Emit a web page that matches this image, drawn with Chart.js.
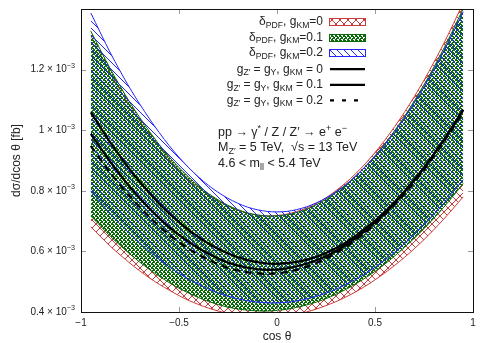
<!DOCTYPE html>
<html><head><meta charset="utf-8">
<script src="https://cdn.jsdelivr.net/npm/chart.js@4"></script>
<style>html,body{margin:0;padding:0;background:#fff}#wrap{width:491px;height:343px;position:relative}</style>
</head><body><div id="wrap"><canvas id="c"></canvas></div>
<script>
// cos(theta) sample points
const cosTheta = [-0.95,-0.85,-0.75,-0.65,-0.55,-0.45,-0.35,-0.25,-0.15,-0.05,0.05,0.15,0.25,0.35,0.45,0.55,0.65,0.75,0.85,0.95];
// dsigma/dcos(theta) in units of 10^-3 fb
// delta_PDF band, gKM = 0 (red)
const redUpper   = [1.312,1.188,1.079,0.984,0.904,0.838,0.786,0.749,0.726,0.717,0.723,0.743,0.777,0.826,0.889,0.967,1.059,1.165,1.285,1.420];
const redLower   = [0.681,0.617,0.561,0.512,0.472,0.438,0.413,0.395,0.385,0.382,0.388,0.400,0.421,0.449,0.485,0.529,0.580,0.639,0.706,0.780];
// delta_PDF band, gKM = 0.1 (green)
const greenUpper = [1.327,1.202,1.091,0.995,0.912,0.845,0.791,0.752,0.727,0.717,0.721,0.739,0.772,0.819,0.880,0.955,1.045,1.150,1.268,1.401];
const greenLower = [0.717,0.650,0.591,0.540,0.497,0.462,0.435,0.416,0.406,0.403,0.409,0.423,0.444,0.474,0.512,0.558,0.613,0.675,0.745,0.824];
// delta_PDF band, gKM = 0.2 (blue)
const blueUpper  = [1.387,1.255,1.138,1.037,0.949,0.876,0.818,0.775,0.746,0.732,0.732,0.747,0.776,0.820,0.879,0.952,1.040,1.143,1.260,1.391];
const blueLower  = [0.799,0.724,0.657,0.599,0.549,0.508,0.476,0.452,0.437,0.430,0.432,0.443,0.462,0.490,0.526,0.571,0.625,0.687,0.758,0.837];
// central curves gZ' = gY
const curveKM0   = [1.059,0.959,0.870,0.792,0.725,0.670,0.626,0.593,0.571,0.560,0.561,0.572,0.595,0.629,0.675,0.731,0.798,0.877,0.967,1.068];
const curveKM01  = [0.988,0.895,0.812,0.741,0.680,0.631,0.592,0.563,0.546,0.539,0.544,0.559,0.584,0.621,0.668,0.726,0.796,0.875,0.966,1.067];
const curveKM02  = [0.948,0.859,0.781,0.713,0.655,0.608,0.572,0.546,0.531,0.526,0.532,0.549,0.576,0.614,0.662,0.720,0.789,0.869,0.960,1.061];
const xTicks = [-1,-0.5,0,0.5,1];
const yTicks = [0.4,0.6,0.8,1.0,1.2,1.4];
const yTickLabels = ['0.4','0.6','0.8','1','1.2',''];

const RED='#cc3a3a', GREEN='#0a6a0a', BLUE='#2424ff';
const FONT='"Liberation Sans", Arial, Helvetica, sans-serif';

function pix(size, color, cells){
  const c=document.createElement('canvas'); c.width=c.height=size;
  const g=c.getContext('2d'); g.fillStyle=color;
  cells(size).forEach(([x,y])=>g.fillRect(x,y,1,1));
  return g.createPattern(c,'repeat');
}
const redPat = pix(8, RED, s=>{const a=[];for(let i=0;i<s;i++){a.push([i,i]);a.push([i,s-1-i]);}return a;});
const greenPat = pix(4, GREEN, s=>{const a=[[1,0],[0,2]];for(let i=0;i<s;i++){a.push([i,i]);a.push([i,s-1-i]);}return a;});
const bluePat = pix(7, BLUE, s=>{const a=[];for(let i=0;i<s;i++){a.push([i,i]);}return a;});

const pts = arr => cosTheta.map((c,i)=>({x:c,y:arr[i]}));
const base = {pointRadius:0, tension:0.3, borderWidth:1};

const datasets = [
  {...base, data:pts(curveKM0),  borderColor:'#000', borderWidth:2.2, fill:false},
  {...base, data:pts(curveKM01), borderColor:'#000', borderWidth:2.2, fill:false},
  {...base, data:pts(curveKM02), borderColor:'#000', borderWidth:2.2, borderDash:[7,5], fill:false},
  {...base, data:pts(blueUpper),  borderColor:BLUE, backgroundColor:bluePat, fill:'+1'},
  {...base, data:pts(blueLower),  borderColor:BLUE, fill:false},
  {...base, data:pts(greenUpper), borderColor:GREEN, backgroundColor:greenPat, fill:'+1'},
  {...base, data:pts(greenLower), borderColor:GREEN, fill:false},
  {...base, data:pts(redUpper),   borderColor:RED, backgroundColor:redPat, fill:'+1'},
  {...base, data:pts(redLower),   borderColor:RED, fill:false}
];

function rich(ctx, parts, x, y, size, align){
  const sub = size*0.72;
  let w=0;
  parts.forEach(p=>{ctx.font=(p[1]?sub:size)+'px '+FONT; w+=ctx.measureText(p[0]).width;});
  let cx = align==='right'? x-w : x;
  ctx.textBaseline='middle'; ctx.textAlign='left';
  parts.forEach(p=>{
    ctx.font=(p[1]?sub:size)+'px '+FONT;
    const dy = p[1]==='sub'? size*0.3 : p[1]==='sup'? -size*0.35 : 0;
    ctx.fillText(p[0], cx, y+dy);
    cx += ctx.measureText(p[0]).width;
  });
}

const decor = {
  id:'decor',
  afterDraw(chart){
    const ctx=chart.ctx, a=chart.chartArea, xs=chart.scales.x, ys=chart.scales.y;
    ctx.save();
    // ticks on four sides
    ctx.strokeStyle='#999'; ctx.lineWidth=1;
    ctx.beginPath();
    yTicks.forEach(v=>{const y=Math.round(ys.getPixelForValue(v))+0.5;
      ctx.moveTo(a.left,y);ctx.lineTo(a.left+5,y);ctx.moveTo(a.right,y);ctx.lineTo(a.right-5,y);});
    xTicks.forEach(v=>{const x=Math.round(xs.getPixelForValue(v))+0.5;
      ctx.moveTo(x,a.bottom);ctx.lineTo(x,a.bottom-5);ctx.moveTo(x,a.top);ctx.lineTo(x,a.top+5);});
    ctx.stroke();
    ctx.strokeStyle='#111';
    ctx.strokeRect(Math.round(a.left)+0.5, Math.round(a.top)+0.5, Math.round(a.right-a.left), Math.round(a.bottom-a.top));
    // y tick labels with superscript exponent
    ctx.fillStyle='#222';
    yTicks.forEach((v,i)=>{ if(!yTickLabels[i]) return;
      rich(ctx,[[yTickLabels[i]+' × 10'],['−3','sup']], a.left-6, ys.getPixelForValue(v), 10, 'right');});
    // axis titles
    ctx.fillStyle='#222'; ctx.font='12px '+FONT; ctx.textAlign='center'; ctx.textBaseline='middle';
    ctx.fillText('cos θ', (a.left+a.right)/2, 337);
    ctx.save(); ctx.translate(17,(a.top+a.bottom)/2); ctx.rotate(-Math.PI/2);
    ctx.fillText('dσ/dcos θ [fb]',0,0); ctx.restore();
    // legend
    const rows=[21.7,37.2,52.9,69.2,84.9,100.3];
    const xr=323, sx0=329, sx1=365;
    const labels=[
      [['δ'],['PDF','sub'],[', g'],['KM','sub'],['=0']],
      [['δ'],['PDF','sub'],[', g'],['KM','sub'],['=0.1']],
      [['δ'],['PDF','sub'],[', g'],['KM','sub'],['=0.2']],
      [['g'],['Z′','sub'],[' = g'],['Y','sub'],[', g'],['KM','sub'],[' = 0']],
      [['g'],['Z′','sub'],[' = g'],['Y','sub'],[', g'],['KM','sub'],[' = 0.1']],
      [['g'],['Z′','sub'],[' = g'],['Y','sub'],[', g'],['KM','sub'],[' = 0.2']]
    ];
    ctx.fillStyle='#222';
    labels.forEach((l,i)=>rich(ctx,l,xr,rows[i],12,'right'));
    [[redPat,RED],[greenPat,GREEN],[bluePat,BLUE]].forEach(([p,c],i)=>{
      const y=Math.round(rows[i]-3.5);
      ctx.fillStyle=p; ctx.fillRect(sx0,y,sx1-sx0,7);
      ctx.strokeStyle=c; ctx.lineWidth=1; ctx.strokeRect(sx0+0.5,y+0.5,sx1-sx0,7);
    });
    ctx.strokeStyle='#000'; ctx.lineWidth=2.2;
    [3,4,5].forEach(i=>{
      ctx.setLineDash(i===5?[4,8]:[]);
      ctx.beginPath(); ctx.moveTo(sx0+1,rows[i]); ctx.lineTo(sx1,rows[i]); ctx.stroke();
    });
    ctx.setLineDash([]);
    // physics text
    ctx.fillStyle='#222';
    rich(ctx,[['pp → γ'],['*','sup'],[' / Z / Z′ → e'],['+','sup'],[' e'],['−','sup']],218,133,12.5,'left');
    rich(ctx,[['M'],['Z′','sub'],[' = 5 TeV,  √s = 13 TeV']],218,148,12.5,'left');
    rich(ctx,[['4.6 < m'],['ll','sub'],[' < 5.4 TeV']],218,163.5,12.5,'left');
    ctx.restore();
  }
};

new Chart(document.getElementById('c'), {
  type:'line',
  data:{datasets},
  options:{
    responsive:true, maintainAspectRatio:false, animation:false,
    layout:{padding:{top:9,right:18,left:0,bottom:0}},
    plugins:{legend:{display:false}, tooltip:{enabled:false}, filler:{propagate:false}},
    scales:{
      x:{type:'linear', min:-1, max:1,
        grid:{display:false, drawTicks:false}, border:{display:false},
        afterFit:s=>{s.height=31;},
        afterBuildTicks:s=>{s.ticks=xTicks.map(v=>({value:v}));},
        ticks:{padding:5, color:'#222', font:{size:10, family:FONT}, maxRotation:0,
          callback:v=>{const n=Math.round(v*10)/10; return n<0?'−'+Math.abs(n):String(n);}}},
      y:{type:'linear', min:0.4, max:1.4,
        grid:{display:false, drawTicks:false}, border:{display:false},
        afterFit:s=>{s.width=81;},
        afterBuildTicks:s=>{s.ticks=yTicks.map(v=>({value:v}));},
        ticks:{display:false}}
    }
  },
  plugins:[decor]
});
</script></body></html>
